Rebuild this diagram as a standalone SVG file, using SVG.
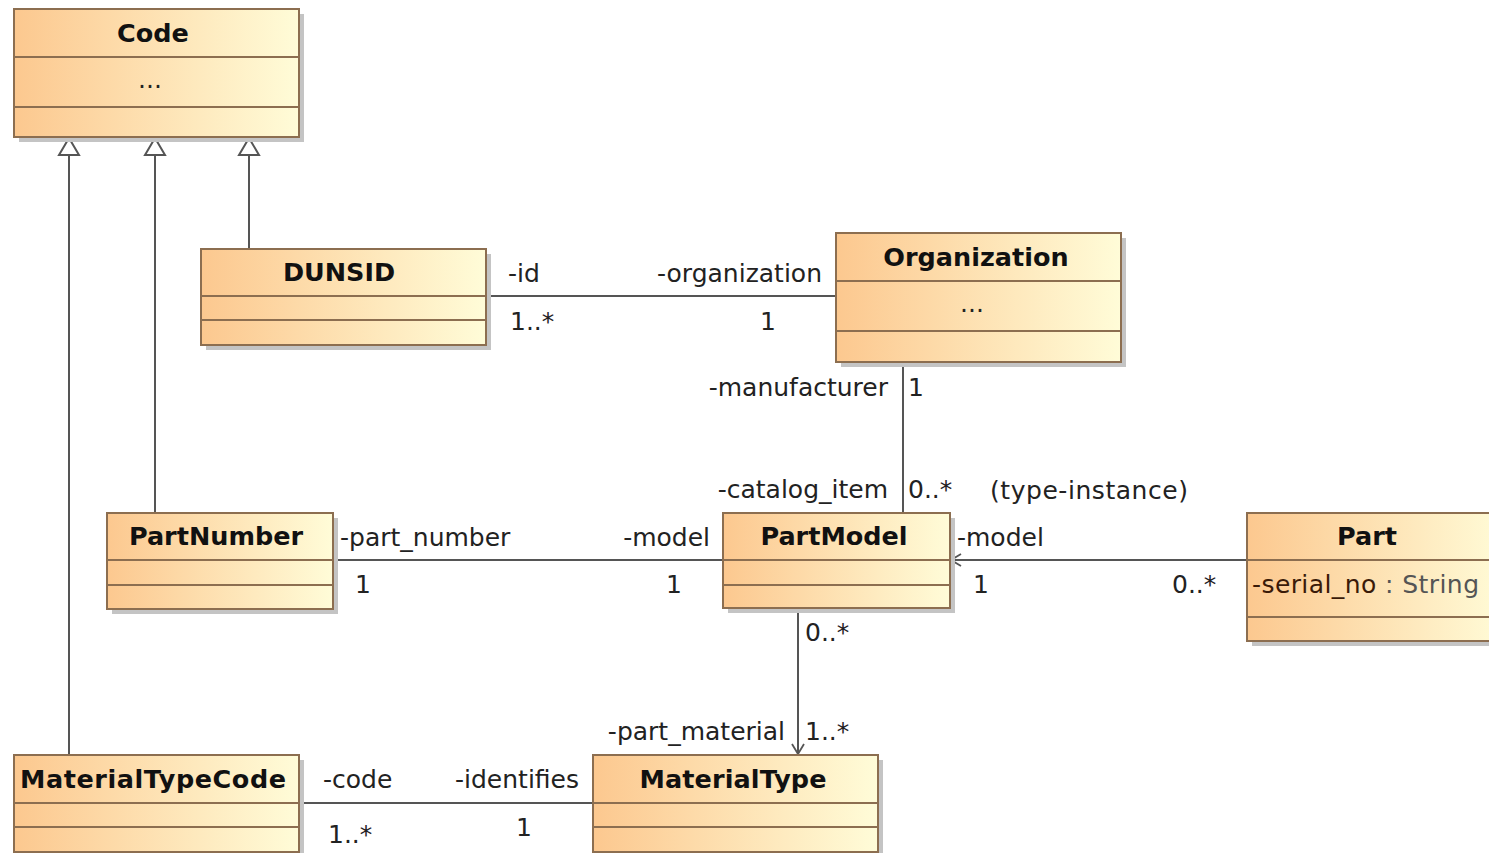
<svg xmlns="http://www.w3.org/2000/svg" width="1489" height="853" viewBox="0 0 1489 853">
<defs>
<linearGradient id="fill" x1="0" y1="0" x2="1" y2="0">
<stop offset="0" stop-color="#fcc88f"/>
<stop offset="1" stop-color="#fffcd8"/>
</linearGradient>
<marker id="open" viewBox="0 0 12 14" refX="11" refY="7" markerWidth="12" markerHeight="14" markerUnits="userSpaceOnUse" orient="auto">
<path d="M1,1 L11,7 L1,13" fill="none" stroke="#555" stroke-width="1.8"/>
</marker>
</defs>
<style>
.box{fill:url(#fill);stroke:#8c6e50;stroke-width:2}
.sh{fill:#c4c4c4}
.div{stroke:#8c6e50;stroke-width:2}
.name{font-family:"DejaVu Sans",sans-serif;font-weight:bold;font-size:25.5px;fill:#111;text-anchor:middle}
.lbl{font-family:"DejaVu Sans",sans-serif;font-size:25px;fill:#222}
.end{text-anchor:end}
.ln{stroke:#555;stroke-width:2;fill:none}
.gen{fill:#fff;stroke:#555;stroke-width:2}
</style>
<rect width="1489" height="853" fill="#fff"/>

<g id="connectors">
<line class="ln" x1="69" y1="155" x2="69" y2="755"/>
<line class="ln" x1="155" y1="155" x2="155" y2="513"/>
<line class="ln" x1="249" y1="155" x2="249" y2="249"/>
<polygon class="gen" points="69,138 59,155 79,155"/>
<polygon class="gen" points="155,138 145,155 165,155"/>
<polygon class="gen" points="249,138 239,155 259,155"/>
<line class="ln" x1="486" y1="296" x2="836" y2="296"/>
<line class="ln" x1="903" y1="362" x2="903" y2="513"/>
<line class="ln" x1="333" y1="560" x2="723" y2="560"/>
<line class="ln" x1="1247" y1="560" x2="951" y2="560" marker-end="url(#open)"/>
<line class="ln" x1="798" y1="608" x2="798" y2="754" marker-end="url(#open)"/>
<line class="ln" x1="299" y1="803" x2="593" y2="803"/>
<text class="lbl" x="508" y="282">-id</text>
<text class="lbl" x="510" y="330">1..*</text>
<text class="lbl end" x="822" y="282">-organization</text>
<text class="lbl" x="760" y="330">1</text>
<text class="lbl end" x="888" y="396">-manufacturer</text>
<text class="lbl" x="908" y="396">1</text>
<text class="lbl end" x="888" y="498">-catalog_item</text>
<text class="lbl" x="908" y="498">0..*</text>
<text class="lbl" x="990" y="499" textLength="198">(type-instance)</text>
<text class="lbl" x="340" y="546">-part_number</text>
<text class="lbl" x="355" y="593">1</text>
<text class="lbl end" x="710" y="546">-model</text>
<text class="lbl" x="666" y="593">1</text>
<text class="lbl" x="957" y="546">-model</text>
<text class="lbl" x="973" y="593">1</text>
<text class="lbl" x="1172" y="593">0..*</text>
<text class="lbl" x="805" y="641">0..*</text>
<text class="lbl end" x="785" y="740">-part_material</text>
<text class="lbl" x="805" y="740">1..*</text>
<text class="lbl" x="323" y="788">-code</text>
<text class="lbl end" x="579" y="788">-identifies</text>
<text class="lbl" x="328" y="843">1..*</text>
<text class="lbl" x="516" y="836">1</text>
</g>

<g id="Code">
<rect class="sh" x="19" y="14" width="285" height="128"/>
<rect class="box" x="14" y="9" width="285" height="128"/>
<line class="div" x1="14" y1="57" x2="299" y2="57"/>
<line class="div" x1="14" y1="107" x2="299" y2="107"/>
<text class="name" x="153" y="42">Code</text>
<text class="lbl" x="150" y="88" text-anchor="middle">...</text>
</g>

<g id="DUNSID">
<rect class="sh" x="206" y="254" width="285" height="96"/>
<rect class="box" x="201" y="249" width="285" height="96"/>
<line class="div" x1="201" y1="296" x2="486" y2="296"/>
<line class="div" x1="201" y1="320" x2="486" y2="320"/>
<text class="name" x="339" y="281">DUNSID</text>
</g>

<g id="Organization">
<rect class="sh" x="841" y="238" width="285" height="129"/>
<rect class="box" x="836" y="233" width="285" height="129"/>
<line class="div" x1="836" y1="281" x2="1121" y2="281"/>
<line class="div" x1="836" y1="331" x2="1121" y2="331"/>
<text class="name" x="976" y="266">Organization</text>
<text class="lbl" x="972" y="312" text-anchor="middle">...</text>
</g>

<g id="PartNumber">
<rect class="sh" x="112" y="518" width="226" height="96"/>
<rect class="box" x="107" y="513" width="226" height="96"/>
<line class="div" x1="107" y1="560" x2="333" y2="560"/>
<line class="div" x1="107" y1="585" x2="333" y2="585"/>
<text class="name" x="216" y="545">PartNumber</text>
</g>

<g id="PartModel">
<rect class="sh" x="728" y="518" width="227" height="95"/>
<rect class="box" x="723" y="513" width="227" height="95"/>
<line class="div" x1="723" y1="560" x2="950" y2="560"/>
<line class="div" x1="723" y1="585" x2="950" y2="585"/>
<text class="name" x="834" y="545">PartModel</text>
</g>

<g id="Part">
<rect class="sh" x="1252" y="518" width="260" height="128"/>
<rect class="box" x="1247" y="513" width="260" height="128"/>
<line class="div" x1="1247" y1="560" x2="1507" y2="560"/>
<line class="div" x1="1247" y1="617" x2="1507" y2="617"/>
<text class="name" x="1367" y="545">Part</text>
<text class="lbl" x="1252" y="593" textLength="227"><tspan fill="#3a1a08">-serial_no</tspan><tspan fill="#555"> : String</tspan></text>
</g>

<g id="MaterialTypeCode">
<rect class="sh" x="19" y="760" width="285" height="97"/>
<rect class="box" x="14" y="755" width="285" height="97"/>
<line class="div" x1="14" y1="803" x2="299" y2="803"/>
<line class="div" x1="14" y1="827" x2="299" y2="827"/>
<text class="name" x="153" y="788" textLength="266">MaterialTypeCode</text>
</g>

<g id="MaterialType">
<rect class="sh" x="598" y="760" width="285" height="97"/>
<rect class="box" x="593" y="755" width="285" height="97"/>
<line class="div" x1="593" y1="803" x2="878" y2="803"/>
<line class="div" x1="593" y1="827" x2="878" y2="827"/>
<text class="name" x="733" y="788" textLength="187">MaterialType</text>
</g>
</svg>
